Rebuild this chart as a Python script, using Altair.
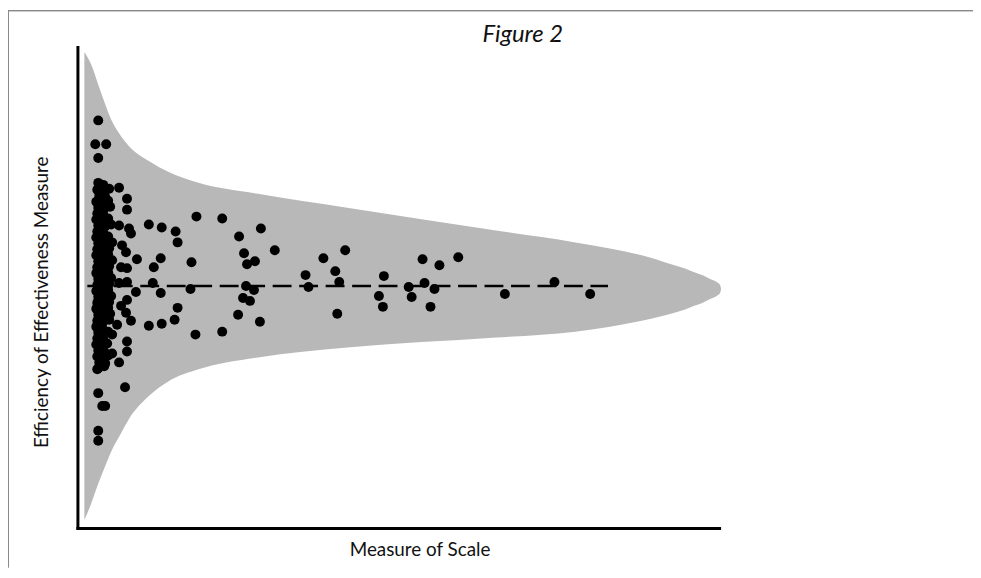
import altair as alt
import pandas as pd

# ---- funnel (confidence band) boundary ----
band_x = [7, 14, 20, 27, 34, 42, 52, 72, 92, 122, 182, 272, 422, 502, 569, 602, 612, 622, 630, 638, 643, 646, 648, 649]
band_hi = [480, 467, 450, 430, 412, 398, 385, 370, 359, 348, 337, 323, 300, 288, 275, 265, 262, 258, 255, 251, 249, 247, 245, 241]
band_lo = [8, 25, 42, 60, 77, 92, 110, 133, 148, 160, 172, 182, 192, 198, 209, 217, 220, 224, 227, 231, 233, 235, 237, 241]

# ---- mean line ----
mean_x = [10, 535]
mean_y = [244, 244]

# ---- observations: measure of scale (x) and efficiency (y) ----
outer_x = [120, 146, 72, 85, 99, 101, 163, 185, 199, 168, 171, 179, 60, 84, 77, 115,
           76, 59, 84, 114, 170, 178, 167, 174, 101, 162, 184, 98, 85, 72, 119, 146,
           230, 233, 248, 270, 260, 264, 262, 309, 304, 308, 334, 337, 348, 350, 360,
           356, 365, 384, 431, 481, 517]
outer_y = [314, 312, 306, 303, 299, 288, 294, 302, 280, 277, 266, 269, 271, 272, 263, 268,
           247, 238, 237, 241, 244, 240, 232, 229, 222, 215, 208, 210, 206, 204, 195, 198,
           255, 243, 272, 280, 259, 248, 216, 254, 234, 223, 243, 233, 271, 247, 241,
           223, 265, 273, 236, 248, 236]

edge_x = [42, 50, 50, 42, 52, 54, 45, 49, 44, 50, 42, 50, 50, 44, 49, 54, 40, 35, 50, 50,
          35, 42, 48, 27, 20, 21, 25, 28, 21, 21, 21, 18, 29, 21]
edge_y = [343, 332, 321, 305, 302, 297, 285, 278, 263, 262, 247, 248, 230, 224, 217, 209,
          205, 195, 188, 178, 176, 167, 142, 163, 160, 136, 123, 123, 98, 88, 411, 387, 387, 373]

column_x = [21, 26, 20, 27, 32, 22, 28, 19, 25, 31, 21, 27, 33, 20, 26, 19, 25, 31,
            21, 28, 34, 20, 26, 19, 25, 31, 21, 27, 35, 20, 26, 32, 19, 25, 31,
            21, 28, 35, 20, 26, 32, 19, 25, 31, 21, 27, 34, 20, 26, 32, 19, 25, 31,
            21, 27, 34, 20, 26, 32, 19, 25, 31, 21, 27, 33, 20, 26, 32, 19, 25,
            21, 27, 31, 20, 26, 19, 25, 30, 21, 27, 20, 26, 31, 22, 28, 21]
column_y = [348, 346, 341, 340, 342, 335, 334, 329, 328, 330, 323, 322, 324, 317, 316, 311, 310, 312,
            305, 304, 306, 299, 298, 293, 292, 294, 287, 286, 288, 281, 280, 282, 275, 274, 276,
            269, 268, 270, 263, 262, 264, 257, 256, 258, 251, 250, 252, 245, 244, 246, 239, 238, 240,
            233, 232, 234, 227, 226, 228, 221, 220, 222, 215, 214, 216, 209, 208, 210, 203, 202,
            197, 196, 198, 191, 190, 185, 184, 186, 179, 178, 173, 172, 174, 167, 166, 161]

pt_x = outer_x + edge_x + column_x
pt_y = outer_y + edge_y + column_y

band_df = pd.DataFrame({"x": band_x, "hi": band_hi, "lo": band_lo})
mean_df = pd.DataFrame({"x": mean_x, "y": mean_y})
pts_df = pd.DataFrame({"x": pt_x, "y": pt_y})
one = pd.DataFrame({"t": ["Figure 2"]})

XS = alt.Scale(domain=[0, 647], nice=False, zero=False)
YS = alt.Scale(domain=[0, 485], nice=False, zero=False)
XT = "Measure of Scale"
YT = "Efficiency of Effectiveness Measure"

band = alt.Chart(band_df).mark_area(color="#b8b8b8", interpolate="monotone").encode(
    x=alt.X("x:Q", scale=XS, title=XT),
    y=alt.Y("hi:Q", scale=YS, title=YT),
    y2="lo:Q",
)

mean_line = alt.Chart(mean_df).mark_line(color="black", strokeWidth=2.5, strokeDash=[19, 7.7]).encode(
    x=alt.X("x:Q", scale=XS, title=XT),
    y=alt.Y("y:Q", scale=YS, title=YT),
)

points = alt.Chart(pts_df).mark_circle(size=100, color="black", opacity=1).encode(
    x=alt.X("x:Q", scale=XS, title=XT),
    y=alt.Y("y:Q", scale=YS, title=YT),
)

title = alt.Chart(one).mark_text(font="Lato", fontStyle="italic", fontSize=24,
                                 align="center", baseline="middle", color="#111").encode(
    text="t:N", x=alt.value(449), y=alt.value(-12))

border_top = alt.Chart(one).mark_rule(color="#555", strokeWidth=1).encode(
    x=alt.value(-70), x2=alt.value(903), y=alt.value(-36.5))
border_left = alt.Chart(one).mark_rule(color="#888", strokeWidth=1).encode(
    x=alt.value(-69.5), y=alt.value(-37), y2=alt.value(525))

chart = alt.layer(band, mean_line, points, title, border_top, border_left).properties(
    width=647, height=485,
    padding={"left": 70, "top": 37, "right": 256, "bottom": 38},
    autosize=alt.AutoSizeParams(type="none"),
    background="white",
).configure_view(stroke=None).configure_axis(
    domainColor="black", domainWidth=3, domainCap="square", ticks=False, labels=False, grid=False,
    titleFont="Lato", titleFontSize=19, titleFontWeight="normal", titleColor="#111",
).configure_axisX(
    titleX=345, titleY=22, titleBaseline="middle", titleAlign="center",
).configure_axisY(
    titleX=-36, titleY=257, titleAngle=270, titleBaseline="middle", titleAlign="center",
)

chart.save("out.html", embed_options={"renderer": "svg", "actions": False})
